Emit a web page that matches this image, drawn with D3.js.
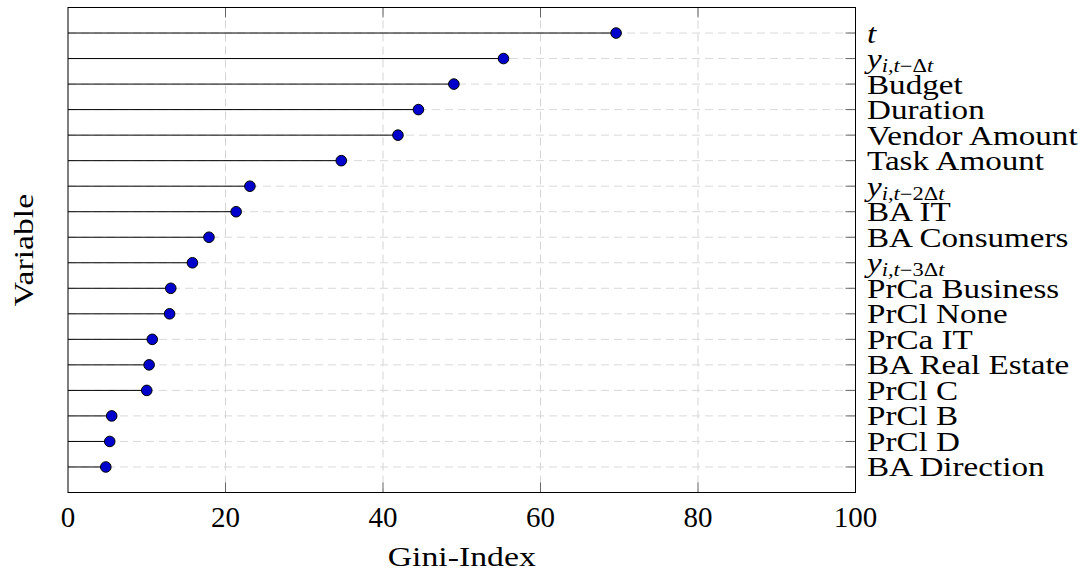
<!DOCTYPE html>
<html>
<head>
<meta charset="utf-8">
<script src="https://cdn.jsdelivr.net/npm/d3@7"></script>
<style>
body { margin: 0; background: #fff; }
svg { display: block; }
text { font-family: "Liberation Serif", "DejaVu Serif", serif; fill: #000; }
</style>
</head>
<body>
<svg id="chart" width="1090" height="573"></svg>
<script>
// Variables (top to bottom) and their Gini-Index values
const variables = ["t", "y_lag1", "Budget", "Duration", "Vendor Amount", "Task Amount",
  "y_lag2", "BA IT", "BA Consumers", "y_lag3", "PrCa Business", "PrCl None",
  "PrCa IT", "BA Real Estate", "PrCl C", "PrCl B", "PrCl D", "BA Direction"];
const giniValues = [69.6, 55.3, 49.0, 44.5, 41.9, 34.7, 23.1, 21.35, 17.9, 15.8,
  13.05, 12.9, 10.7, 10.3, 10.0, 5.55, 5.3, 4.8];
const xTicks = [0, 20, 40, 60, 80, 100];
const lagLabels = { y_lag1: "", y_lag2: "2", y_lag3: "3" };

const svg = d3.select("#chart");
const L = 68, R = 855.5, T = 7.5, B = 492.5;
const STRETCH = 1.25; // widen Times-like glyphs towards Computer Modern proportions

const x = d3.scaleLinear().domain([0, 100]).range([L, R]);
const y = d3.scaleLinear().domain([0, variables.length + 1]).range([T, B]);

const g = svg.append("g");

// vertical grid
g.selectAll(".vg").data(xTicks.filter(d => d > 0 && d < 100)).enter().append("line")
  .attr("x1", d => x(d)).attr("x2", d => x(d)).attr("y1", T).attr("y2", B)
  .attr("stroke", "#d4d4d4").attr("stroke-width", 1).attr("stroke-dasharray", "8,5");

// horizontal grid
g.selectAll(".hg").data(variables).enter().append("line")
  .attr("x1", L).attr("x2", R).attr("y1", (d, i) => y(i + 1)).attr("y2", (d, i) => y(i + 1))
  .attr("stroke", "#d9d9d9").attr("stroke-width", 1).attr("stroke-dasharray", "8,5");

// ticks (inside)
const tickLen = 10;
g.selectAll(".xtb").data(xTicks.filter(d => d > 0 && d < 100)).enter().append("line")
  .attr("x1", d => x(d)).attr("x2", d => x(d)).attr("y1", B).attr("y2", B - tickLen)
  .attr("stroke", "#666").attr("stroke-width", 1);
g.selectAll(".xtt").data(xTicks.filter(d => d > 0 && d < 100)).enter().append("line")
  .attr("x1", d => x(d)).attr("x2", d => x(d)).attr("y1", T).attr("y2", T + tickLen)
  .attr("stroke", "#666").attr("stroke-width", 1);
g.selectAll(".ytr").data(variables).enter().append("line")
  .attr("x1", R).attr("x2", R - tickLen).attr("y1", (d, i) => y(i + 1)).attr("y2", (d, i) => y(i + 1))
  .attr("stroke", "#666").attr("stroke-width", 1);

// stems
g.selectAll(".stem").data(giniValues).enter().append("line")
  .attr("x1", x(0)).attr("x2", d => x(d)).attr("y1", (d, i) => y(i + 1)).attr("y2", (d, i) => y(i + 1))
  .attr("stroke", "#000").attr("stroke-width", 1);

// frame
g.append("rect").attr("x", L).attr("y", T).attr("width", R - L).attr("height", B - T)
  .attr("fill", "none").attr("stroke", "#000").attr("stroke-width", 1);

// markers
g.selectAll(".pt").data(giniValues).enter().append("circle")
  .attr("cx", d => x(d)).attr("cy", (d, i) => y(i + 1)).attr("r", 5.3)
  .attr("fill", "#0000cc").attr("stroke", "#000").attr("stroke-width", 1);

// x tick labels
g.selectAll(".xl").data(xTicks).enter().append("text")
  .attr("x", d => x(d)).attr("y", 527).attr("text-anchor", "middle")
  .attr("font-size", 29).text(d => d);

// y labels on the right
const labG = g.append("g").attr("transform", "translate(867,0) scale(" + STRETCH + ",1)");
const lab = labG.selectAll(".yl").data(variables).enter().append("text")
  .attr("x", 0).attr("y", (d, i) => y(i + 1) + 9.5)
  .attr("font-size", 26.5);
lab.each(function(d) {
  const t = d3.select(this);
  if (d === "t") {
    t.append("tspan").attr("font-style", "italic").text("t");
  } else if (d in lagLabels) {
    t.append("tspan").attr("font-style", "italic").text("y");
    const sub = t.append("tspan").attr("font-size", 18).attr("dy", 4);
    sub.append("tspan").attr("font-style", "italic").text("i,t");
    sub.append("tspan").text("\u2212" + lagLabels[d] + "\u0394");
    sub.append("tspan").attr("font-style", "italic").text("t");
  } else {
    t.text(d);
  }
});

// axis titles
svg.append("g").attr("transform", "translate(" + x(50) + ",566) scale(" + STRETCH + ",1)")
  .append("text").attr("x", 0).attr("y", 0).attr("text-anchor", "middle")
  .attr("font-size", 27).text("Gini-Index");
svg.append("g").attr("transform", "translate(33," + ((T + B) / 2) + ") rotate(-90) scale(" + STRETCH + ",1)")
  .append("text").attr("text-anchor", "middle").attr("font-size", 27).text("Variable");
</script>
</body>
</html>
